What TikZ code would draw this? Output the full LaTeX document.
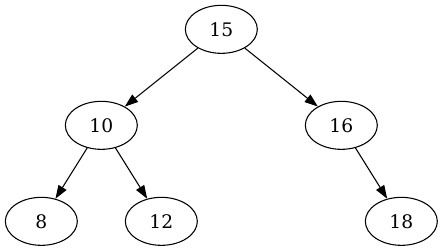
\documentclass[tikz,border=0pt]{standalone}
\usepackage{fontspec}
\setmainfont{DejaVu Serif}
\usetikzlibrary{arrows.meta, shapes.geometric}

\begin{document}
\begin{tikzpicture}[
  treenode/.style={ellipse, draw, line width=0.8pt, minimum width=54pt,
                   minimum height=36pt, inner sep=0pt,
                   font=\fontsize{14}{16}\selectfont},
  link/.style={-{Triangle[length=10pt, width=7pt]}, line width=0.8pt, draw}
]
\useasboundingbox (0,0) rectangle (332.25pt,188.25pt);

\node[treenode] (n15) at (166pt,166.25pt) {15};
\node[treenode] (n10) at (76pt,94.25pt)   {10};
\node[treenode] (n16) at (256pt,94.25pt)  {16};
\node[treenode] (n8)  at (31pt,22.25pt)   {8};
\node[treenode] (n12) at (121pt,22.25pt)  {12};
\node[treenode] (n18) at (301pt,22.25pt)  {18};

\draw[link] (n15) -- (n10);
\draw[link] (n15) -- (n16);
\draw[link] (n10) -- (n8);
\draw[link] (n10) -- (n12);
\draw[link] (n16) -- (n18);
\end{tikzpicture}
\end{document}
